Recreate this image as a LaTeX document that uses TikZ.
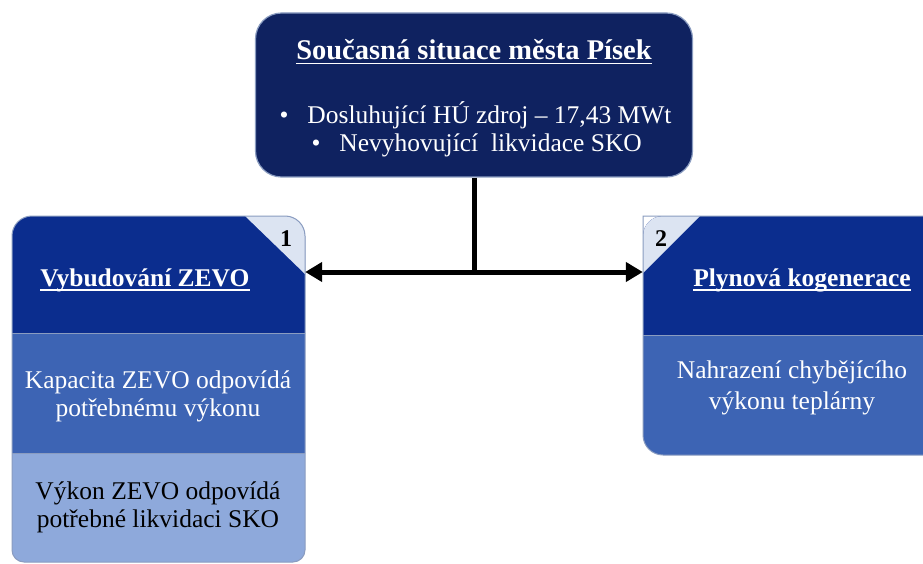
\documentclass[tikz,border=0pt]{standalone}
\usepackage{fontspec}
\setmainfont{Liberation Serif}
\newcommand{\myul}[1]{\setbox0\hbox{#1}\rlap{\copy0}\rule[-4.5pt]{\wd0}{1.6pt}}
\usetikzlibrary{arrows.meta}
\definecolor{navy}{HTML}{0F2260}
\definecolor{dblue}{HTML}{0B2D8E}
\definecolor{mblue}{HTML}{3D64B4}
\definecolor{lblue}{HTML}{8EA9DB}
\definecolor{tri}{HTML}{DCE4F2}
\definecolor{edge}{HTML}{8A9CC0}
\tikzset{
  wtext/.style={text=white, align=center, font=\fontsize{25.5}{28}\selectfont},
  btext/.style={text=black, align=center, font=\fontsize{25.5}{28}\selectfont},
  htext/.style={text=white, align=center, font=\bfseries\fontsize{25.5}{28}\selectfont},
  numtext/.style={text=black, font=\bfseries\fontsize{24}{26}\selectfont},
  conn/.style={line width=5pt, black},
  arr/.style={conn, -{Triangle[length=17pt,width=19pt]}},
}
\begin{document}
\begin{tikzpicture}[x=1pt,y=-1pt]
\fill[white] (0,0) rectangle (923,564);
\useasboundingbox (0,0) rectangle (923,564);
\clip (0,0) rectangle (923,564);

% top box
\node[draw=edge, line width=1.2pt, fill=navy, rounded corners=26pt,
      minimum width=437pt, minimum height=164pt, inner sep=0pt] (top) at (474,95) {};
\node[htext, font=\bfseries\fontsize{28.5}{30}\selectfont] (title) at (474,52) {\myul{Současná situace města Písek}};
\node[wtext, anchor=west] (b1) at (276,115) {\textbullet\hspace{19pt}Dosluhující HÚ zdroj – 17,43 MWt};
\node[wtext, anchor=west] (b2) at (308,145) {\textbullet\hspace{19pt}Nevyhovující\ \ likvidace SKO};

% left box
\begin{scope}
  \clip[rounded corners=20pt] (12,562) -- (12,216) -- (305,216) [sharp corners] -- (305,300) [rounded corners=12pt] -- (305,562) -- cycle;
  \fill[dblue] (0,200) rectangle (320,333);
  \fill[mblue] (0,333) rectangle (320,453);
  \fill[lblue] (0,453) rectangle (320,570);
  \fill[tri] (245,216) -- (305,216) -- (305,274) -- cycle;
  \draw[edge, line width=0.8pt] (0,333) -- (320,333);
  \draw[edge, line width=0.8pt] (0,453) -- (320,453);
\end{scope}
\draw[edge, line width=1pt, rounded corners=20pt] (12,562) -- (12,216) -- (305,216) [sharp corners] -- (305,300) [rounded corners=12pt] -- (305,562) -- cycle;
\node[minimum width=293pt, minimum height=346pt, inner sep=0pt] (L) at (158.5,389) {};
\node[numtext] (n1) at (286,239) {1};
\node[htext] (lh) at (145,280) {\myul{Vybudování ZEVO}};
\node[wtext] (l2) at (158,396) {Kapacita ZEVO odpovídá\\potřebnému výkonu};
\node[btext] (l3) at (158,507) {Výkon ZEVO odpovídá\\potřebné likvidaci SKO};

% right box
\begin{scope}
  \clip[rounded corners=20pt] (643,216) [sharp corners] -- (940,216) -- (940,455) [rounded corners=20pt] -- (643,455) -- cycle;
  \fill[dblue] (630,200) rectangle (940,335);
  \fill[mblue] (630,335) rectangle (940,460);
  \fill[tri] (643,216) -- (700,216) -- (643,273) -- cycle;
  \draw[edge, line width=0.8pt] (630,335) -- (940,335);
\end{scope}
\draw[edge, line width=1pt] (940,216) -- (643,216) [rounded corners=20pt] -- (643,455) -- (940,455);
\node[minimum width=290pt, minimum height=239pt, inner sep=0pt] (R) at (788,335.5) {};
\node[numtext] (n2) at (661,239) {2};
\node[htext] (rh) at (802,280) {\myul{Plynová kogenerace}};
\node[wtext, font=\fontsize{25.5}{31}\selectfont] (r2) at (792,388) {Nahrazení chybějícího\\výkonu teplárny};

% connectors
\coordinate (J) at (top.south |- 0,272);
\draw[conn] (top.south) -- ([yshift=2.5pt]J);
\draw[arr] (J) -- (L.east |- J);
\draw[arr] (J) -- (R.west |- J);
\end{tikzpicture}
\end{document}
